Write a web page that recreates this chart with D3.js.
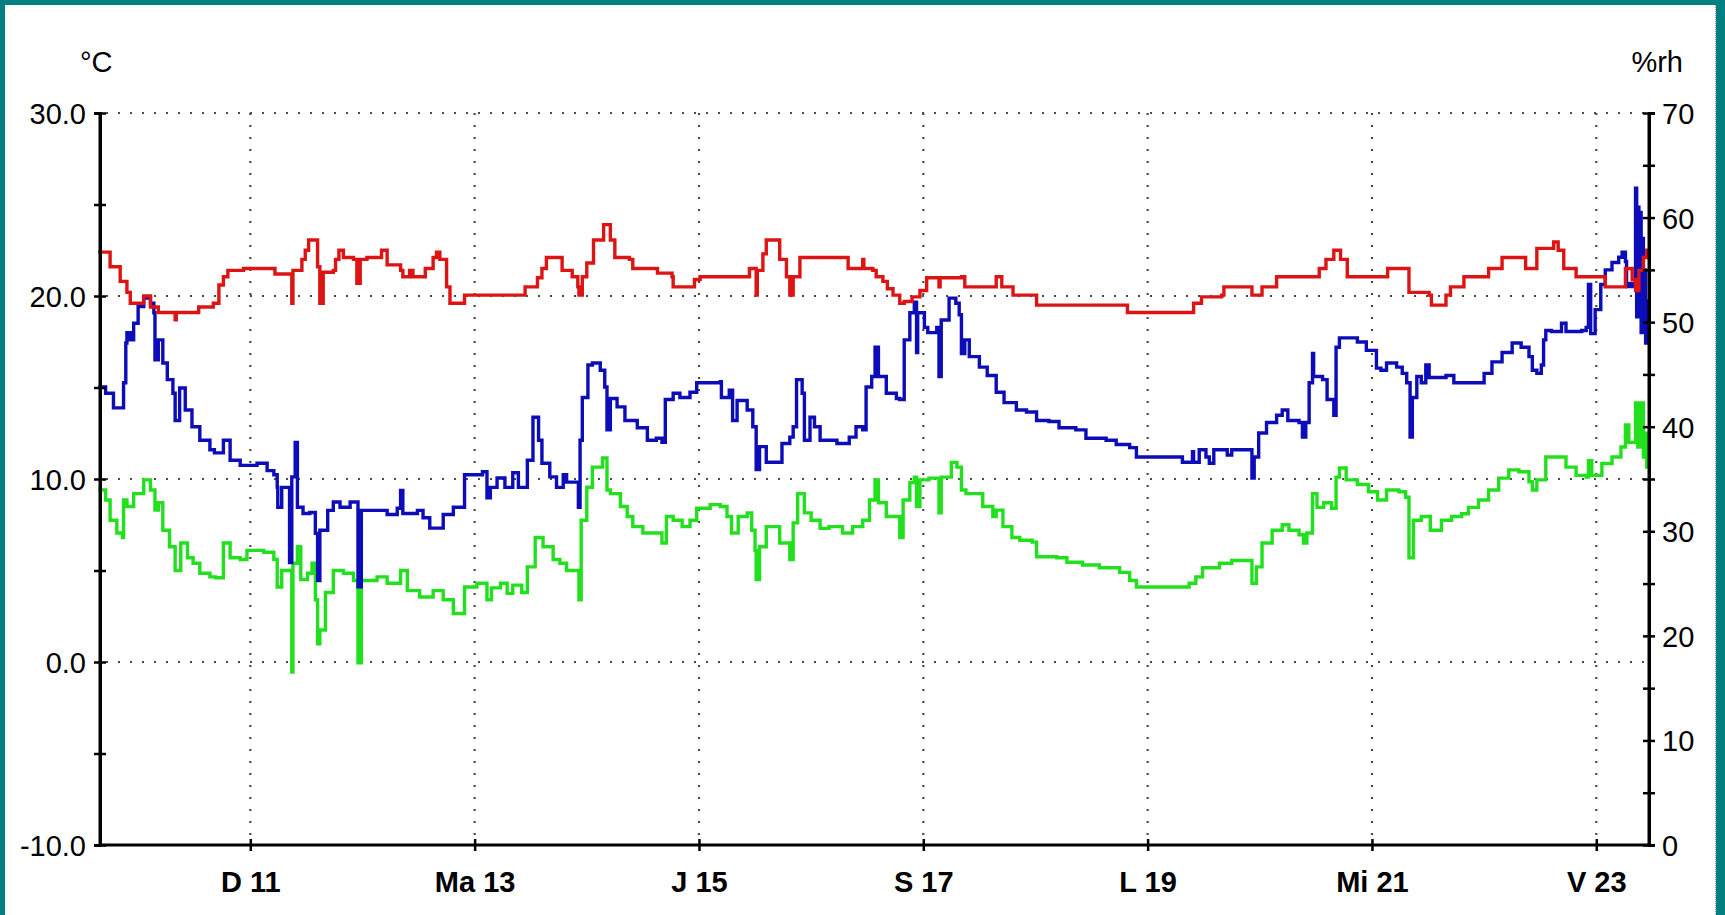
<!DOCTYPE html>
<html>
<head>
<meta charset="utf-8">
<script src="https://cdn.jsdelivr.net/npm/d3@7"></script>
<style>
  html, body { margin: 0; padding: 0; background: #ffffff; }
  svg { display: block; }
  text { font-family: "Liberation Sans", Arial, sans-serif; fill: #000; }
</style>
</head>
<body>
<svg id="chart" width="1725" height="915"></svg>
<script>
// ---- axis settings ----
const dayTicks = [11, 13, 15, 17, 19, 21, 23];
const dayNames = ["D", "Ma", "J", "S", "L", "Mi", "V"];
const tempTicks = [-10, -5, 0, 5, 10, 15, 20, 25, 30];
const tempLabels = ["-10.0", "", "0.0", "", "10.0", "", "20.0", "", "30.0"];
const rhTicks = [0, 5, 10, 15, 20, 25, 30, 35, 40, 45, 50, 55, 60, 65, 70];
const rhLabels = ["0", "", "10", "", "20", "", "30", "", "40", "", "50", "", "60", "", "70"];
const tempGrid = [0, 10, 20, 30];
const dayRange = [9.66, 23.47];

// ---- logged series: [day of month, value] ----
// air temperature, °C (left axis)
const temperature = [
  [9.66,22.4],[9.75,21.6],[9.84,20.8],[9.90,20.2],[9.93,19.6],[10.02,19.6],[10.05,20.0],[10.11,19.4],
  [10.18,19.1],[10.32,19.1],[10.33,18.7],[10.34,19.1],[10.53,19.1],[10.54,19.4],[10.67,19.6],[10.72,20.6],
  [10.76,21.05],[10.80,21.4],[10.94,21.5],[11.20,21.5],[11.22,21.2],[11.34,21.2],[11.37,19.6],[11.38,21.4],
  [11.45,21.4],[11.46,22.0],[11.49,22.5],[11.52,23.06],[11.58,23.06],[11.60,21.6],[11.62,19.6],[11.65,21.3],
  [11.74,21.4],[11.76,22.0],[11.79,22.5],[11.83,22.1],[11.92,22.0],[11.95,20.7],[11.98,22.0],[12.04,22.1],
  [12.14,22.1],[12.17,22.5],[12.22,21.7],[12.34,21.4],[12.36,21.05],[12.42,21.4],[12.45,21.05],[12.54,21.05],
  [12.56,21.5],[12.63,22.1],[12.66,22.4],[12.69,22.0],[12.75,20.5],[12.78,19.6],[12.90,19.6],[12.91,20.05],
  [13.42,20.05],[13.45,20.5],[13.52,20.5],[13.56,21.0],[13.60,21.5],[13.64,22.1],[13.72,22.1],[13.78,21.4],
  [13.87,21.05],[13.92,20.5],[13.93,20.05],[13.96,21.05],[14.0,21.8],[14.06,23.06],[14.15,23.9],[14.21,23.06],
  [14.25,22.1],[14.38,22.0],[14.41,21.5],[14.59,21.5],[14.63,21.25],[14.76,21.05],[14.77,20.5],[14.95,20.5],
  [14.96,20.9],[15.01,21.05],[15.43,21.05],[15.45,21.5],[15.50,21.5],[15.51,20.05],[15.52,21.4],[15.57,22.3],
  [15.60,23.06],[15.66,23.06],[15.72,22.0],[15.78,21.05],[15.81,20.05],[15.84,21.05],[15.90,22.1],[16.32,22.1],
  [16.33,21.5],[16.45,21.5],[16.46,22.0],[16.47,21.5],[16.55,21.4],[16.58,21.05],[16.64,20.8],[16.68,20.4],
  [16.73,20.05],[16.79,19.6],[16.83,19.7],[16.90,19.95],[16.97,20.3],[17.03,21.0],[17.12,21.0],[17.14,20.5],
  [17.15,21.0],[17.34,21.05],[17.37,20.5],[17.62,20.5],[17.65,21.05],[17.70,20.5],[17.77,20.5],[17.80,20.05],
  [17.99,20.05],[18.01,19.5],[18.81,19.5],[18.82,19.1],[19.40,19.1],[19.41,19.6],[19.48,19.95],[19.66,20.05],
  [19.68,20.5],[19.92,20.5],[19.93,20.05],[20.01,20.05],[20.02,20.5],[20.11,20.5],[20.15,21.05],[20.44,21.05],
  [20.53,21.5],[20.59,22.0],[20.66,22.5],[20.72,22.0],[20.78,21.05],[21.13,21.05],[21.14,21.5],[21.30,21.5],
  [21.33,20.2],[21.51,20.05],[21.53,19.5],[21.62,19.5],[21.66,20.05],[21.70,20.5],[21.82,21.05],[22.04,21.5],
  [22.16,22.1],[22.34,22.1],[22.37,21.5],[22.43,21.5],[22.47,22.6],[22.58,22.6],[22.62,22.95],[22.66,22.5],
  [22.71,21.5],[22.82,21.05],[23.07,21.05],[23.08,20.5],[23.23,20.5],[23.26,21.5],[23.32,20.9],[23.35,20.3],
  [23.38,21.4],[23.42,22.1],[23.45,22.5],[23.47,22.3]
];

// relative humidity, %rh (right axis)
const humidity = [
  [9.66,43.8],[9.71,43.2],[9.78,41.8],[9.86,41.8],[9.87,44.2],[9.89,48.0],[9.90,49.0],[9.93,48.3],
  [9.96,49.9],[10.0,51.5],[10.05,52.3],[10.11,51.8],[10.14,50.9],[10.15,46.4],[10.18,48.3],[10.22,46.1],
  [10.26,44.5],[10.31,43.2],[10.33,40.6],[10.37,43.7],[10.42,41.6],[10.48,40.0],[10.55,38.7],[10.64,37.8],
  [10.68,37.5],[10.76,38.7],[10.82,36.8],[10.91,36.3],[11.06,36.5],[11.15,35.8],[11.21,35.4],[11.24,34.2],
  [11.245,32.3],[11.28,34.2],[11.34,34.2],[11.35,27.0],[11.37,35.2],[11.40,38.5],[11.42,32.3],[11.47,31.7],
  [11.53,31.8],[11.58,29.8],[11.60,25.3],[11.62,30.1],[11.69,32.0],[11.74,32.8],[11.80,32.3],[11.89,32.8],
  [11.95,32.8],[11.96,24.7],[11.99,32.0],[12.13,32.0],[12.22,31.6],[12.31,32.2],[12.34,33.9],[12.36,31.7],
  [12.49,32.0],[12.54,31.3],[12.60,30.3],[12.69,30.3],[12.72,31.6],[12.81,32.3],[12.89,32.3],[12.91,35.4],
  [13.02,35.4],[13.07,35.7],[13.11,33.2],[13.14,34.2],[13.20,35.1],[13.23,35.1],[13.27,34.2],[13.34,35.6],
  [13.39,34.2],[13.43,34.2],[13.47,36.8],[13.52,40.9],[13.57,38.7],[13.60,36.5],[13.67,35.2],[13.73,34.2],
  [13.79,35.4],[13.82,34.7],[13.92,34.7],[13.925,32.3],[13.94,38.7],[13.96,42.8],[14.01,45.9],[14.05,46.1],
  [14.12,45.4],[14.16,43.8],[14.18,39.7],[14.21,42.7],[14.27,41.9],[14.34,40.6],[14.45,39.9],[14.54,38.7],
  [14.62,38.9],[14.67,38.5],[14.70,42.6],[14.77,43.2],[14.83,42.8],[14.92,43.3],[14.98,44.2],[15.19,44.3],
  [15.20,42.8],[15.27,43.5],[15.30,40.6],[15.34,42.5],[15.43,41.6],[15.48,40.0],[15.51,35.9],[15.54,38.1],
  [15.60,36.6],[15.69,36.6],[15.74,38.4],[15.81,39.0],[15.84,40.0],[15.87,44.5],[15.92,43.2],[15.94,38.7],
  [15.99,40.9],[16.03,40.0],[16.08,38.7],[16.23,38.4],[16.34,39.0],[16.40,40.0],[16.46,39.7],[16.49,43.8],
  [16.54,44.8],[16.57,47.6],[16.60,44.8],[16.67,43.2],[16.76,42.7],[16.79,42.6],[16.83,48.3],[16.88,50.9],
  [16.92,51.9],[16.94,47.1],[16.95,50.9],[17.01,49.5],[17.04,49.0],[17.12,49.5],[17.14,44.8],[17.16,50.2],
  [17.23,52.3],[17.29,51.8],[17.32,50.7],[17.34,47.0],[17.37,48.3],[17.41,46.7],[17.50,45.7],[17.57,44.9],
  [17.65,43.3],[17.72,42.3],[17.83,41.6],[17.92,41.4],[18.01,40.6],[18.12,40.5],[18.21,39.9],[18.36,39.7],
  [18.45,38.9],[18.63,38.7],[18.72,38.3],[18.84,38.0],[18.90,37.1],[19.28,37.1],[19.31,36.6],[19.40,37.6],
  [19.41,36.6],[19.46,37.8],[19.52,37.1],[19.55,36.5],[19.59,37.8],[19.66,37.8],[19.71,37.3],[19.75,37.8],
  [19.92,37.8],[19.93,35.1],[19.95,37.1],[19.99,39.4],[20.06,40.4],[20.15,41.1],[20.20,41.6],[20.25,40.6],
  [20.35,40.4],[20.38,39.0],[20.41,40.4],[20.44,44.2],[20.47,47.0],[20.48,44.8],[20.56,44.5],[20.60,42.6],
  [20.66,41.1],[20.68,47.6],[20.71,48.5],[20.87,48.1],[20.95,47.3],[21.04,45.6],[21.08,45.4],[21.13,46.1],
  [21.22,45.7],[21.27,45.1],[21.31,44.2],[21.34,39.0],[21.36,42.8],[21.40,44.8],[21.44,44.2],[21.48,45.9],
  [21.51,44.7],[21.66,44.9],[21.73,44.2],[21.97,44.2],[22.00,45.1],[22.07,46.2],[22.16,47.1],[22.25,48.0],
  [22.33,47.6],[22.40,46.7],[22.43,45.4],[22.47,45.1],[22.51,45.9],[22.53,48.3],[22.55,49.2],[22.60,49.1],
  [22.69,49.9],[22.73,49.1],[22.87,49.2],[22.91,49.5],[22.93,53.6],[22.95,48.9],[22.99,51.2],[23.04,53.6],
  [23.08,55.0],[23.14,55.7],[23.20,56.2],[23.23,56.7],[23.26,55.8],[23.27,53.4],[23.30,53.7],[23.33,53.4],
  [23.35,62.8],[23.36,50.5],[23.37,61.0],[23.38,53.0],[23.39,60.5],[23.40,49.0],[23.41,58.0],[23.42,51.0],
  [23.43,55.0],[23.44,48.0],[23.45,52.0],[23.47,48.5]
];

// dew point, °C (left axis)
const dewPoint = [
  [9.66,9.4],[9.71,8.85],[9.75,7.75],[9.81,7.05],[9.86,6.8],[9.87,8.85],[9.90,8.5],[9.96,9.2],
  [10.05,9.95],[10.11,9.4],[10.15,8.3],[10.18,8.7],[10.22,7.2],[10.28,6.3],[10.33,5.0],[10.38,6.5],
  [10.44,5.7],[10.49,5.4],[10.55,4.85],[10.64,4.65],[10.69,4.6],[10.76,6.5],[10.82,5.7],[10.91,5.6],
  [10.97,6.1],[11.12,6.0],[11.21,5.6],[11.24,4.1],[11.28,5.0],[11.34,5.0],[11.37,-0.55],[11.38,5.4],
  [11.42,6.3],[11.45,4.5],[11.51,4.85],[11.55,5.4],[11.58,3.4],[11.60,1.0],[11.62,1.75],[11.67,3.8],
  [11.74,5.0],[11.83,4.85],[11.92,4.45],[11.96,-0.05],[11.99,4.45],[12.13,4.65],[12.22,4.3],[12.34,5.0],
  [12.40,3.9],[12.51,3.55],[12.63,3.9],[12.72,3.4],[12.81,2.65],[12.87,2.65],[12.91,4.1],[13.02,4.3],
  [13.11,3.4],[13.15,4.05],[13.23,4.3],[13.29,3.75],[13.34,4.2],[13.42,3.8],[13.47,5.2],[13.54,6.8],
  [13.61,6.3],[13.70,5.6],[13.76,5.4],[13.82,5.0],[13.92,5.0],[13.93,3.4],[13.95,7.75],[14.00,9.55],
  [14.05,10.65],[14.14,11.15],[14.18,9.4],[14.21,9.2],[14.30,8.5],[14.36,7.95],[14.41,7.4],[14.50,7.05],
  [14.59,7.05],[14.67,6.5],[14.71,7.95],[14.77,7.75],[14.85,7.4],[14.92,7.75],[14.98,8.4],[15.10,8.6],
  [15.19,8.5],[15.25,7.95],[15.29,7.05],[15.35,7.95],[15.43,8.15],[15.47,7.2],[15.50,6.1],[15.51,4.5],
  [15.54,6.3],[15.60,7.4],[15.72,6.5],[15.81,5.6],[15.84,7.6],[15.88,9.2],[15.94,8.15],[16.00,7.75],
  [16.08,7.3],[16.16,7.4],[16.28,7.05],[16.37,7.4],[16.46,7.75],[16.52,8.85],[16.57,9.95],[16.60,8.7],
  [16.67,7.95],[16.79,6.8],[16.82,8.85],[16.88,9.8],[16.92,10.1],[16.94,8.5],[16.97,9.95],[17.05,10.05],
  [17.12,10.05],[17.14,8.15],[17.16,10.1],[17.25,10.9],[17.30,10.65],[17.34,9.4],[17.38,9.2],[17.53,8.5],
  [17.62,7.95],[17.65,8.3],[17.71,7.4],[17.79,6.8],[17.86,6.65],[17.97,6.55],[18.01,5.75],[18.19,5.7],
  [18.28,5.45],[18.42,5.3],[18.57,5.15],[18.75,4.9],[18.84,4.45],[18.90,4.1],[19.31,4.1],[19.37,4.3],
  [19.43,4.65],[19.49,5.15],[19.64,5.4],[19.75,5.55],[19.90,5.55],[19.93,4.3],[19.97,5.2],[20.02,6.5],
  [20.11,7.2],[20.20,7.5],[20.26,7.2],[20.35,6.95],[20.39,6.5],[20.42,7.05],[20.47,9.2],[20.51,8.45],
  [20.57,8.7],[20.64,8.4],[20.68,10.1],[20.71,10.6],[20.77,9.95],[20.87,9.7],[20.97,9.3],[21.05,8.85],
  [21.13,9.4],[21.24,9.3],[21.30,9.0],[21.33,5.7],[21.37,7.75],[21.44,7.95],[21.52,7.2],[21.62,7.75],
  [21.71,7.95],[21.80,8.1],[21.86,8.45],[21.95,8.85],[22.04,9.4],[22.13,10.05],[22.22,10.5],[22.31,10.4],
  [22.40,9.85],[22.43,9.4],[22.47,9.95],[22.55,11.2],[22.64,11.2],[22.73,10.65],[22.82,10.2],[22.91,10.1],
  [22.93,11.0],[22.96,10.2],[23.05,10.85],[23.14,11.2],[23.22,11.75],[23.26,12.95],[23.29,12.0],[23.35,14.15],
  [23.37,11.75],[23.40,14.15],[23.42,11.2],[23.43,12.5],[23.45,10.65],[23.47,11.7]
];

// ---- layout ----
const svg = d3.select("#chart");
const W = 1725, H = 915;
const plot = { left: 100, right: 1649, top: 113, bottom: 845 };

// frame
svg.append("rect").attr("x", 0).attr("y", 0).attr("width", W).attr("height", H).attr("fill", "#008080");
svg.append("rect").attr("x", 5).attr("y", 5).attr("width", 1711).attr("height", H - 5).attr("fill", "#ffffff");
svg.append("line").attr("x1", 1715.5).attr("x2", 1715.5).attr("y1", 5).attr("y2", H)
  .attr("stroke", "#9a9a9a").attr("stroke-width", 1).attr("stroke-dasharray", "1,1");

const x = d3.scaleLinear().domain(dayRange).range([plot.left, plot.right]);
const yT = d3.scaleLinear().domain([-10, 30]).range([plot.bottom, plot.top]);
const yH = d3.scaleLinear().domain([0, 70]).range([plot.bottom, plot.top]);

// dotted grid
const grid = svg.append("g").attr("stroke", "#4a4a4a").attr("stroke-width", 2.2)
  .attr("stroke-dasharray", "2,10").attr("fill", "none");
grid.selectAll("line.h").data(tempGrid).join("line").attr("class", "h")
  .attr("x1", plot.left + 6).attr("x2", plot.right)
  .attr("y1", d => yT(d)).attr("y2", d => yT(d));
grid.selectAll("line.v").data(dayTicks).join("line").attr("class", "v")
  .attr("x1", d => x(d)).attr("x2", d => x(d))
  .attr("y1", plot.top).attr("y2", plot.bottom);

// series, drawn as the logger's stepped traces
const lineT = d3.line().curve(d3.curveStepAfter).x(d => x(d[0])).y(d => yT(d[1]));
const lineH = d3.line().curve(d3.curveStepAfter).x(d => x(d[0])).y(d => yH(d[1]));
const series = svg.append("g").attr("fill", "none").attr("stroke-width", 3.4)
  .attr("stroke-linejoin", "miter").attr("stroke-linecap", "square");
series.append("path").datum(dewPoint).attr("stroke", "#22e01e").attr("d", lineT);
series.append("path").datum(humidity).attr("stroke", "#0c0cb8").attr("d", lineH);
series.append("path").datum(temperature).attr("stroke", "#dc1414").attr("d", lineT);

// axes
function styleAxis(g) {
  g.select(".domain").attr("stroke", "#000").attr("stroke-width", 3);
  g.selectAll(".tick line").attr("stroke", "#000").attr("stroke-width", 2.5);
  g.selectAll(".tick text").attr("font-size", 29).attr("fill", "#000");
}

const axL = svg.append("g").attr("transform", `translate(${plot.left},0)`)
  .call(d3.axisLeft(yT).tickValues(tempTicks).tickSizeOuter(0).tickSize(6).tickPadding(10)
    .tickFormat((d, i) => tempLabels[i]))
  .attr("font-family", null).attr("font-size", null);
styleAxis(axL);
axL.selectAll(".tick line").attr("x1", 6).attr("x2", -6);
axL.selectAll(".tick text").attr("x", -14).attr("dy", "0.36em");

const axR = svg.append("g").attr("transform", `translate(${plot.right},0)`)
  .call(d3.axisRight(yH).tickValues(rhTicks).tickSizeOuter(0).tickSize(6).tickPadding(10)
    .tickFormat((d, i) => rhLabels[i]))
  .attr("font-family", null).attr("font-size", null);
styleAxis(axR);
axR.selectAll(".tick line").attr("x1", -6).attr("x2", 6);
axR.selectAll(".tick text").attr("x", 13).attr("dy", "0.36em");

const axB = svg.append("g").attr("transform", `translate(0,${plot.bottom})`)
  .call(d3.axisBottom(x).tickValues(dayTicks).tickSizeOuter(0).tickSize(6)
    .tickFormat((d, i) => `${dayNames[i]} ${d}`))
  .attr("font-family", null).attr("font-size", null);
styleAxis(axB);
axB.select(".domain").attr("d", `M${plot.left - 1},0H${plot.right + 1}`);
axB.selectAll(".tick line").attr("y1", -6).attr("y2", 6);
axB.selectAll(".tick text").attr("y", 26).attr("dy", "0.71em").attr("font-weight", "bold");

// the two vertical axis lines drawn across the full height
svg.append("line").attr("x1", plot.left).attr("x2", plot.left).attr("y1", plot.top).attr("y2", plot.bottom + 1.5)
  .attr("stroke", "#000").attr("stroke-width", 3);
svg.append("line").attr("x1", plot.right).attr("x2", plot.right).attr("y1", plot.top).attr("y2", plot.bottom + 1.5)
  .attr("stroke", "#000").attr("stroke-width", 3);

// unit captions
svg.append("text").attr("x", 80).attr("y", 72).attr("font-size", 29).text("°C");
svg.append("text").attr("x", 1683).attr("y", 72).attr("font-size", 29).attr("text-anchor", "end").text("%rh");
</script>
</body>
</html>
